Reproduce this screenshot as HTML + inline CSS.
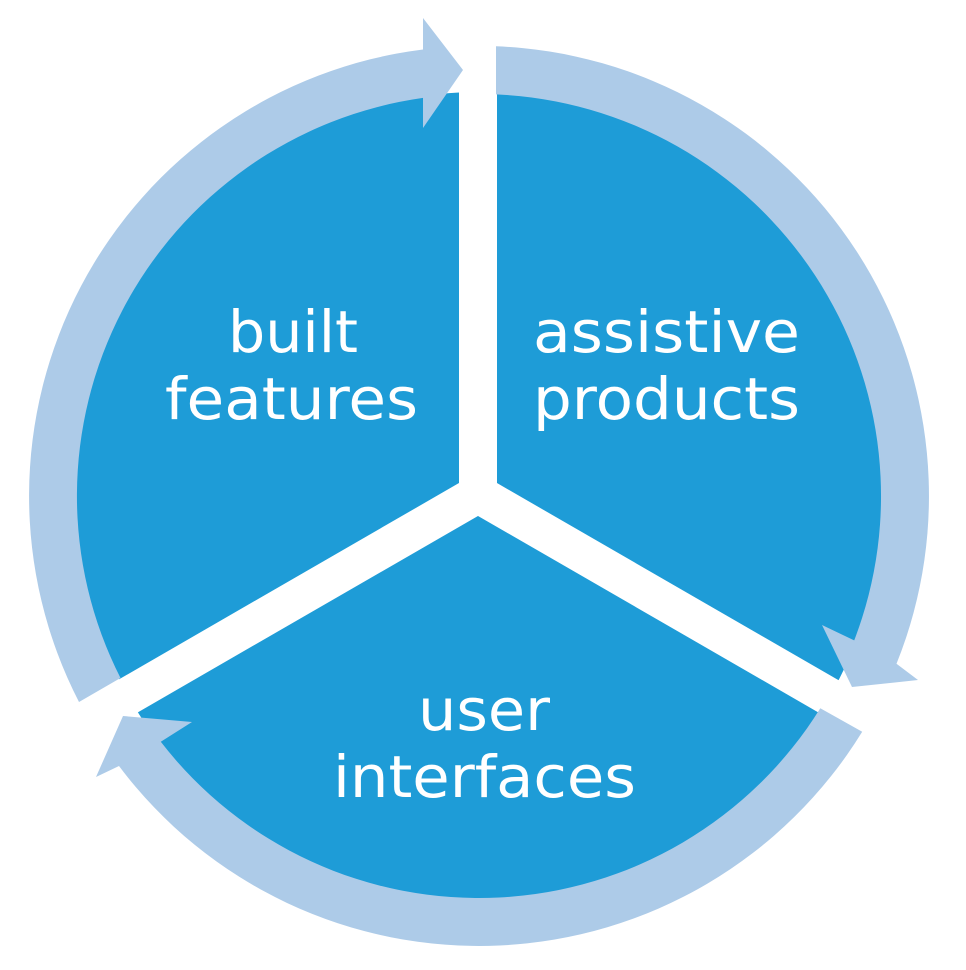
<!DOCTYPE html>
<html><head><meta charset="utf-8"><style>html,body{margin:0;padding:0;background:#fff}svg{display:block}</style></head>
<body>
<svg width="966" height="970" viewBox="0 0 966 970" xmlns="http://www.w3.org/2000/svg">
<circle cx="479" cy="496" r="404" fill="#1e9cd7"/>
<g stroke="#fff" stroke-width="38" stroke-linecap="butt">
<line x1="478" y1="494" x2="478" y2="60"/>
<line x1="478" y1="494" x2="90" y2="718"/>
<line x1="478" y1="494" x2="866" y2="718"/>
</g>
<g fill="#adcbe8">
<path d="M79,702 A450,450 0 0 1 423,49.5 L423,18 L463,70 L423,128 L423,97.9 A402,402 0 0 0 120.5,678 Z"/>
<path d="M496,46.3 A450,450 0 0 1 896.5,663.8 L918,680 L852,687 L822,625 L854.2,640.4 A402,402 0 0 0 496,94.4 Z"/>
<path d="M862.2,731.8 A450,450 0 0 1 119,766 L96,777 L123,716 L192,722 L160.8,741.8 A402,402 0 0 0 820.3,708.3 Z"/>
</g>
<g fill="#fff" font-family="'DejaVu Sans','Liberation Sans',sans-serif" font-size="58">
<text x="228" y="352" textLength="130" lengthAdjust="spacingAndGlyphs">built</text>
<text x="165" y="419" textLength="253" lengthAdjust="spacingAndGlyphs">features</text>
<text x="533" y="352" textLength="267" lengthAdjust="spacingAndGlyphs">assistive</text>
<text x="533" y="419" textLength="267" lengthAdjust="spacingAndGlyphs">products</text>
<text x="418" y="730" textLength="132" lengthAdjust="spacingAndGlyphs">user</text>
<text x="333" y="797" textLength="303" lengthAdjust="spacingAndGlyphs">interfaces</text>
</g>
</svg>
</body></html>
